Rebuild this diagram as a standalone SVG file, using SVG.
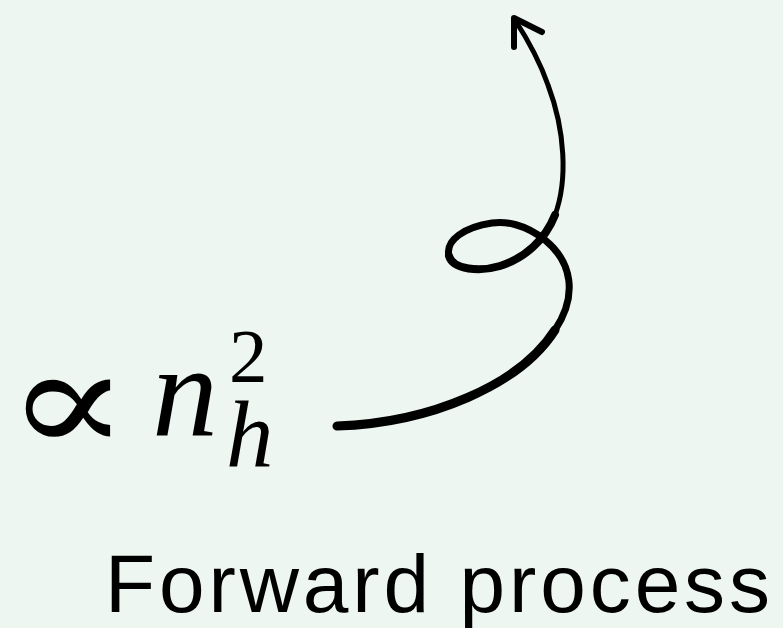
<svg xmlns="http://www.w3.org/2000/svg" width="783" height="628" viewBox="0 0 783 628">
<style>
.math{font-family:"Liberation Serif","DejaVu Serif",serif;fill:#000}
.it{font-style:italic}
.title{font-family:"Liberation Sans",Arial,sans-serif;font-size:82px;fill:#000}
.wire{fill:none;stroke:#000;stroke-linecap:round;stroke-linejoin:round}
</style>
<rect width="783" height="628" fill="#eef6f1"/>
<g id="expr">
<text class="math" transform="translate(6,453) scale(1.22,1)" x="0" y="0" font-size="150">∝</text>
<text class="math it" x="152" y="436" font-size="132">n</text>
<text class="math" x="229" y="382" font-size="77">2</text>
<text class="math it" x="226" y="467" font-size="95">h</text>
</g>
<g id="caption">
<text class="title" x="105" y="612" textLength="665" lengthAdjust="spacing">Forward process</text>
</g>
<g id="connectors">
<path class="wire" stroke-width="9" d="M337,426 C430,423 520,385 555,330"/>
<path class="wire" stroke-width="7" d="M555,330 C578,295 572,262 545,240 C525,224 505,221 492,223 C465,227 445,240 449,256"/>
<path class="wire" stroke-width="8" d="M449,256 C453,270 480,272 500,266 C525,258 545,240 555,215"/>
<path class="wire" stroke-width="5" d="M555,215 C568,180 565,130 548,85 C540,62 528,40 515,20"/>
<path class="wire" stroke-width="6" d="M514,47 L514,18 L542,32"/>
</g>
</svg>
